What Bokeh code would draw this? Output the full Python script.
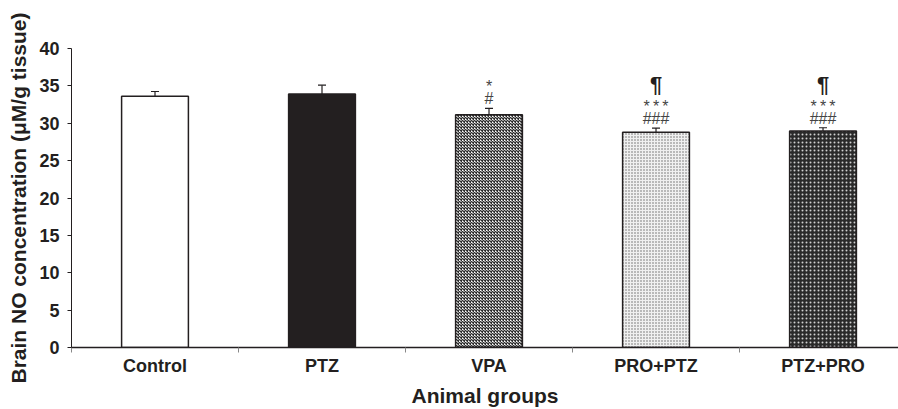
from bokeh.plotting import figure
from bokeh.models import ColumnDataSource, FixedTicker, Whisker, TeeHead, Range1d
from bokeh.core.properties import value
from bokeh.embed import file_html
from bokeh.resources import INLINE

groups = ["Control", "PTZ", "VPA", "PRO+PTZ", "PTZ+PRO"]
means = [33.6, 33.9, 31.15, 28.8, 28.95]
sems = [0.65, 1.2, 0.85, 0.55, 0.45]
stars = ["", "", "*", "*\u2009*\u2009*", "*\u2009*\u2009*"]
hashes = ["", "", "#", "###", "###"]
paras = ["", "", "", "¶", "¶"]
y_ticks = [0, 5, 10, 15, 20, 25, 30, 35, 40]

INK = "#231f20"
FONT = "Liberation Sans"

x = [i + 0.5 for i in range(len(groups))]
upper = [m + s for m, s in zip(means, sems)]

p = figure(width=898, height=409, output_backend="svg", toolbar_location=None,
           x_range=Range1d(0, 4.952), y_range=Range1d(0, 40),
           min_border_left=71, min_border_right=0, min_border_top=48, min_border_bottom=62)
p.outline_line_color = None
p.grid.grid_line_color = None
p.background_fill_color = "white"
p.border_fill_color = "white"

styles = [
    dict(fill_color="white", hatch_pattern=None),
    dict(fill_color=INK, hatch_pattern=None),
    dict(fill_color="#ffffff", hatch_pattern="diagonal_cross", hatch_color="#2e2e2e", hatch_scale=3.0, hatch_weight=1.3),
    dict(fill_color="#f0f0f0", hatch_pattern="dot", hatch_color="#666666", hatch_scale=3.0, hatch_weight=1.0),
    dict(fill_color="#2a2a2a", hatch_pattern="dot", hatch_color="#d0d0d0", hatch_scale=4.0, hatch_weight=1.0),
]
for i, st in enumerate(styles):
    kw = dict(st)
    if kw.get("hatch_pattern") is None:
        kw.pop("hatch_pattern")
    p.vbar(x=[x[i]], top=[means[i]], bottom=0, width=0.4,
           line_color=INK, line_width=1.5, **kw)

src = ColumnDataSource(dict(x=x, m=means, up=upper, st=stars, hs=hashes, pa=paras))
w = Whisker(base="x", upper="up", lower="m", source=src, line_color=INK, line_width=1.2,
            upper_head=TeeHead(size=8, line_color=INK, line_width=1.2), lower_head=None)
p.add_layout(w)

p.text(x="x", y="up", text="hs", source=src, text_align="center", text_baseline="bottom",
       y_offset=-1, text_font=value(FONT), text_font_size="16px", text_color="#444444")
p.text(x="x", y="up", text="st", source=src, text_align="center", text_baseline="bottom",
       y_offset=-13, text_font=value(FONT), text_font_size="16px", text_color="#444444")
p.text(x="x", y="up", text="pa", source=src, text_align="center", text_baseline="bottom",
       y_offset=-31, text_font=value(FONT), text_font_size="22px", text_font_style="bold", text_color=INK)

# axes
xa = p.xaxis[0]
xa.ticker = FixedTicker(ticks=x, minor_ticks=list(range(0, 6)))
xa.major_label_overrides = {v: g for v, g in zip(x, groups)}
xa.major_tick_out = 0
xa.major_tick_in = 0
xa.minor_tick_out = 5
xa.minor_tick_in = 0
xa.minor_tick_line_color = "#888888"
xa.axis_line_color = INK
xa.axis_line_width = 1.5
xa.major_label_standoff = 3
xa.major_label_text_font = FONT
xa.major_label_text_font_style = "bold"
xa.major_label_text_font_size = "18px"
xa.major_label_text_color = INK
xa.axis_label = "Animal groups"
xa.axis_label_text_font = FONT
xa.axis_label_text_font_style = "bold"
xa.axis_label_text_font_size = "21px"
xa.axis_label_text_color = INK
xa.axis_label_standoff = 5

ya = p.yaxis[0]
ya.ticker = FixedTicker(ticks=y_ticks, minor_ticks=[])
ya.major_tick_out = 4
ya.major_tick_in = 0
ya.major_tick_line_color = INK
ya.axis_line_color = INK
ya.axis_line_width = 1
ya.major_label_standoff = 8
ya.major_label_text_font = FONT
ya.major_label_text_font_style = "bold"
ya.major_label_text_font_size = "18px"
ya.major_label_text_color = INK
ya.axis_label = "Brain NO concentration (\u03bcM/g tissue)"
ya.axis_label_text_font = FONT
ya.axis_label_text_font_style = "bold"
ya.axis_label_text_font_size = "21px"
ya.axis_label_text_color = INK
ya.axis_label_standoff = 6

open("out.html", "w").write(file_html(p, INLINE))
